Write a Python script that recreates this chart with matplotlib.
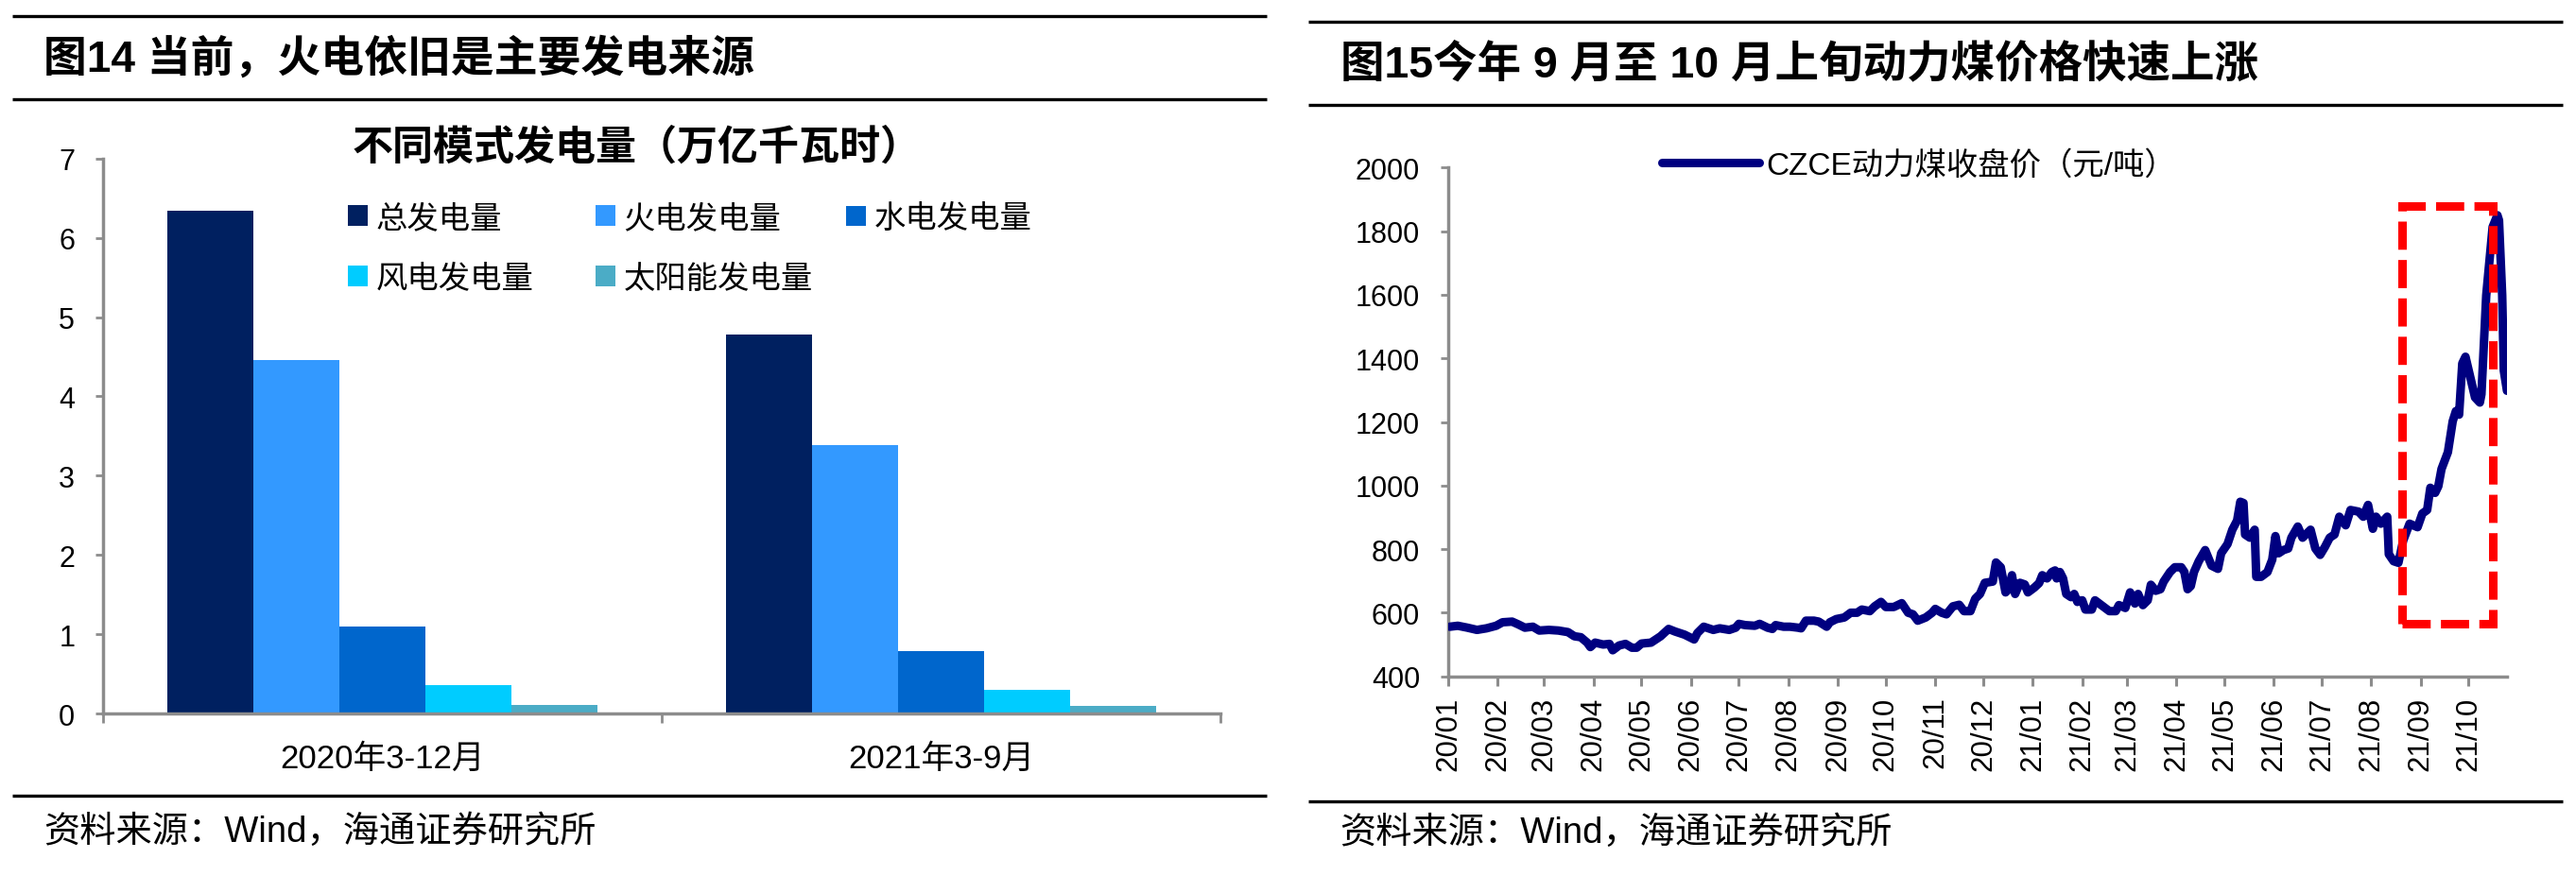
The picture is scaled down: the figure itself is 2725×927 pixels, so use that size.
import numpy as np
import pandas as pd
import matplotlib
matplotlib.use('Agg')
import matplotlib.pyplot as plt
import matplotlib.dates as mdates
from matplotlib.patches import Rectangle
from matplotlib.lines import Line2D

FAM = ['Liberation Sans', 'Noto Sans CJK SC']
plt.rcParams['font.family'] = FAM

# ---------------- data: left chart ----------------
periods = ['2020年3-12月', '2021年3-9月']
series_names = ['总发电量', '火电发电量', '水电发电量', '风电发电量', '太阳能发电量']
total = [6.34, 4.78]
thermal = [4.46, 3.38]
hydro = [1.10, 0.79]
wind = [0.36, 0.30]
solar = [0.11, 0.10]
bar_colors = ['#002060', '#3399FF', '#0066CC', '#00CCFF', '#4BACC6']
left_yticks = [0, 1, 2, 3, 4, 5, 6, 7]

# ---------------- data: right chart ----------------
base_date = '2020-01-01'
price_day = [1, 6, 12, 18, 24, 30, 34, 40, 44, 48, 53, 57, 63, 69, 75, 79, 83, 87, 89, 92,
             97, 101, 103, 107, 111, 115, 118, 121, 127, 133, 138, 142, 148, 154, 156, 160, 166, 170, 176, 180,
             182, 186, 192, 195, 200, 203, 205, 210, 214, 219, 221, 224, 229, 232, 237, 239, 243, 248, 252, 256,
             259, 264, 267, 271, 274, 279, 284, 288, 291, 294, 299, 303, 305, 309, 312, 316, 320, 323, 327, 330,
             333, 336, 341, 343, 346, 349, 351, 353, 355, 358, 361, 363, 367,
             370, 372, 375, 378, 380, 381, 383, 385, 387, 390, 392, 394, 397, 399, 403, 405, 409, 414, 418, 420,
             424, 427, 430, 432, 435, 438, 440, 443, 446, 448, 452, 455, 459, 461, 463, 465, 467, 470, 474, 478,
             482, 484, 488, 491, 494, 496, 498, 499, 502, 505, 506, 509, 513, 516, 518, 520, 523, 526, 528, 532,
             535, 537, 540, 543, 546, 549, 552, 555,
             558, 562, 565, 570, 573, 576, 579, 581, 584, 588, 589, 592, 595, 598, 602, 607, 610, 613, 615, 618,
             620, 622, 626, 629, 631, 633, 635, 637, 640, 643, 646, 647, 650, 652, 654, 657, 658, 660, 661, 663]
price = [556, 559, 553, 546, 551, 559, 570, 572, 563, 553, 556, 544, 546, 544, 539, 526, 523, 506, 492, 506,
         500, 502, 482, 497, 502, 490, 490, 503, 506, 526, 549, 541, 531, 516, 536, 556, 546, 551, 546, 553,
         565, 561, 559, 565, 553, 549, 561, 556, 556, 553, 551, 575, 575, 572, 556, 570, 580, 585, 600, 600,
         610, 605, 620, 634, 618, 618, 630, 600, 595, 575, 585, 600, 612, 600, 595, 620, 625, 605, 605, 644,
         659, 694, 698, 758, 743, 664, 674, 718, 659, 694, 689, 664, 679,
         693, 718, 708, 728, 733, 708, 728, 708, 659, 649, 659, 634, 639, 610, 610, 639, 624, 605, 605, 624,
         615, 664, 629, 659, 624, 639, 688, 669, 674, 698, 728, 743, 743, 728, 674, 684, 728, 762, 797, 748,
         738, 787, 816, 861, 890, 949, 945, 846, 836, 861, 713, 713, 728, 767, 841, 787, 797, 802, 836, 871,
         836, 846, 861, 802, 782, 807, 836, 846,
         902, 875, 923, 918, 902, 939, 864, 902, 880, 902, 784, 762, 757, 827, 880, 869, 912, 923, 993, 977,
         998, 1052, 1105, 1202, 1234, 1223, 1384, 1405, 1341, 1277, 1261, 1287, 1598, 1705, 1813, 1850, 1834, 1598, 1362, 1298]
price_label = 'CZCE动力煤收盘价（元/吨）'
right_yticks = [400, 600, 800, 1000, 1200, 1400, 1600, 1800, 2000]
xlim_end_day = 663
box_start_day, box_end_day = 597, 654
box_low, box_high = 566, 1880

W, H = 2725, 928
fig = plt.figure(figsize=(W / 100, H / 100), dpi=100)

AX_GRAY = '#8C8C8C'

def fx(px):
    return px / W

def fy(py):
    return 1 - py / H

# ---------------- header / footer lines & texts ----------------
def hline(x0, x1, y):
    fig.add_artist(Line2D([fx(x0), fx(x1)], [fy(y), fy(y)], transform=fig.transFigure,
                          color='black', lw=2.4, solid_capstyle='butt'))

hline(13, 1340, 18); hline(13, 1340, 106); hline(13, 1340, 843)
hline(1384, 2711, 24); hline(1384, 2711, 112); hline(1384, 2711, 849)

fig.text(fx(46), fy(63), '图14 当前，火电依旧是主要发电来源', fontsize=33, fontweight='bold',
         ha='left', va='center')
fig.text(fx(1418), fy(69), '图15今年 9 月至 10 月上旬动力煤价格快速上涨', fontsize=33.5, fontweight='bold',
         ha='left', va='center')
fig.text(fx(46), fy(881), '资料来源：Wind，海通证券研究所', fontsize=27.5, ha='left', va='center')
fig.text(fx(1417), fy(882), '资料来源：Wind，海通证券研究所', fontsize=27.5, ha='left', va='center')

# ---------------- left chart ----------------
ax = fig.add_axes([fx(109), fy(756), fx(1291 - 109), (756 - 168.7) / H])
x = np.arange(len(periods))
bw = 0.154
series = [total, thermal, hydro, wind, solar]
bars = []
for i, (vals, c, name) in enumerate(zip(series, bar_colors, series_names)):
    b = ax.bar(x + (i - 2) * bw, vals, width=bw, color=c, label=name, zorder=2)
    bars.append(b)
ax.set_xlim(-0.5, 1.5)
ax.set_ylim(0, 7)
ax.set_yticks(left_yticks)
ax.set_xticks(x)
ax.set_xticklabels(periods, fontsize=25)
ax.set_xticks([-0.5, 0.5, 1.5], minor=True)
ax.tick_params(axis='x', which='major', length=0, pad=22)
ax.tick_params(axis='x', which='minor', length=7, width=2, color=AX_GRAY, direction='out')
ax.tick_params(axis='y', length=5.5, width=2, color=AX_GRAY, direction='out', labelsize=22, pad=16)
for s in ['top', 'right']:
    ax.spines[s].set_visible(False)
for s in ['left', 'bottom']:
    ax.spines[s].set_color(AX_GRAY)
    ax.spines[s].set_linewidth(2.5)
ax.spines['bottom'].set_zorder(3)

fig.text(fx(674), fy(157), '不同模式发电量（万亿千瓦时）', fontsize=31, fontweight='bold',
         ha='center', va='center')

# legend laid out as 3 equally spaced columns (row-major order like the original)
legend_columns = [[0, 3], [1, 4], [2]]
col_x = [368, 630, 895]
for j, (cols, cx) in enumerate(zip(legend_columns, col_x)):
    lg = ax.legend([bars[k] for k in cols], [series_names[k] for k in cols], ncol=1,
                   loc='upper left', bbox_to_anchor=(fx(cx), fy(217)), bbox_transform=fig.transFigure,
                   frameon=False, fontsize=24, handlelength=0.63, handleheight=0.63,
                   handletextpad=0.25, labelspacing=0.98, borderpad=0, borderaxespad=0)
    if j < len(legend_columns) - 1:
        ax.add_artist(lg)

# ---------------- right chart ----------------
ax2 = fig.add_axes([fx(1532), fy(716.7), fx(2652 - 1532), (716.7 - 178.3) / H])
base = pd.Timestamp(base_date)
dates = base + pd.to_timedelta(price_day, unit='D')
line, = ax2.plot(dates, price, color='#000080', lw=6.5, solid_joinstyle='round',
                 solid_capstyle='round', zorder=3)
ax2.set_xlim(base, base + pd.Timedelta(days=xlim_end_day))
ax2.set_ylim(400, 2000)
ax2.set_yticks(right_yticks)
ax2.xaxis.set_major_locator(mdates.MonthLocator())
ax2.xaxis.set_major_formatter(mdates.DateFormatter('%y/%m'))
ax2.tick_params(axis='x', length=7, width=2.2, color=AX_GRAY, direction='out', labelsize=22.5,
                labelrotation=90, pad=8)
ax2.tick_params(axis='y', length=5.5, width=2, color=AX_GRAY, direction='out', labelsize=22, pad=16)
for s in ['top', 'right']:
    ax2.spines[s].set_visible(False)
for s in ['left', 'bottom']:
    ax2.spines[s].set_color(AX_GRAY)
    ax2.spines[s].set_linewidth(2.5)

x0_box = mdates.date2num(base + pd.Timedelta(days=box_start_day))
x1_box = mdates.date2num(base + pd.Timedelta(days=box_end_day))
box = Rectangle((x0_box, box_low), x1_box - x0_box, box_high - box_low, fill=False,
                edgecolor='#FF0000', lw=6.5, linestyle=(0, (3.3, 1.2)), zorder=4)
ax2.add_patch(box)

ax2.legend([line], [price_label], loc='upper left', bbox_to_anchor=(fx(1758), fy(160)),
           bbox_transform=fig.transFigure, frameon=False, fontsize=24, handlelength=3.1,
           handletextpad=0.2, borderpad=0, borderaxespad=0)

fig.savefig('out.png', dpi=100)
